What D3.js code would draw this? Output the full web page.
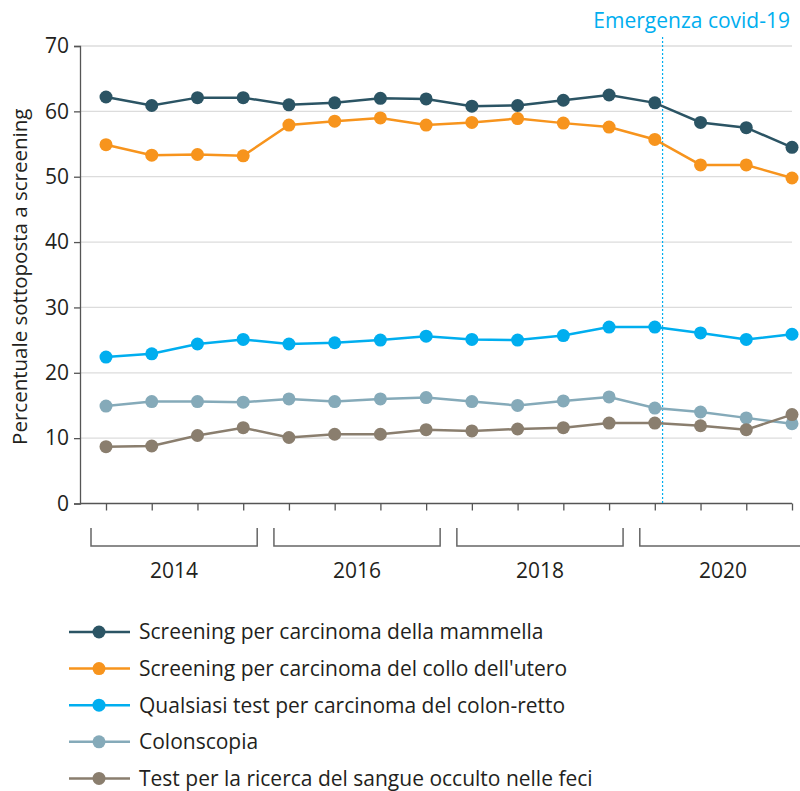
<!DOCTYPE html>
<html><head><meta charset="utf-8">
<script src="https://cdn.jsdelivr.net/npm/d3@7"></script>
<style>body{margin:0;background:#fff} svg{display:block;font-family:'Open Sans',sans-serif}</style>
</head><body><svg id="c" width="800" height="791"></svg>
<script>
const periods = ["2013 S2","2014 S1","2014 S2","2015 S1","2015 S2","2016 S1","2016 S2","2017 S1","2017 S2","2018 S1","2018 S2","2019 S1","2019 S2","2020 S1","2020 S2","2021 S1"];
const groupLabels = ["2014","2016","2018","2020"];
const seriesNames = ["Screening per carcinoma della mammella","Screening per carcinoma del collo dell'utero","Qualsiasi test per carcinoma del colon-retto","Colonscopia","Test per la ricerca del sangue occulto nelle feci"];
const mammella = [62.2,60.9,62.1,62.1,61.0,61.3,62.0,61.9,60.8,60.9,61.7,62.5,61.3,58.3,57.5,54.5];
const utero = [54.9,53.3,53.4,53.2,57.9,58.5,59.0,57.9,58.3,58.9,58.2,57.6,55.7,51.8,51.8,49.8];
const colonRetto = [22.4,22.9,24.4,25.1,24.4,24.6,25.0,25.6,25.1,25.0,25.7,27.0,27.0,26.1,25.1,25.9];
const colonscopia = [14.9,15.6,15.6,15.5,16.0,15.6,16.0,16.2,15.6,15.0,15.7,16.3,14.6,14.0,13.1,12.2];
const feci = [8.7,8.8,10.4,11.6,10.1,10.6,10.6,11.3,11.1,11.4,11.6,12.3,12.3,11.9,11.3,13.6];
const yTicks = [0,10,20,30,40,50,60,70];
const covidLabel = "Emergenza covid-19";
const covidAfterIndex = 12; // covid marker just after this period

const colors = ["#2b5464","#f7941d","#00aeef","#85aab9","#8a7e6e"];
const allSeries = [mammella, utero, colonRetto, colonscopia, feci];

(function(){
const svg = d3.select("#c");
const mL = 80, mR = 792, mT = 46, mB = 503.5;
const x = d3.scalePoint().domain(periods).range([106, mR]);
const y = d3.scaleLinear().domain([0,70]).range([mB, mT]);
const step = x.step();

// gridlines
svg.append("g").selectAll("line").data(yTicks.filter(d=>d>0)).join("line")
  .attr("x1", mL).attr("x2", mR).attr("y1", d=>y(d)).attr("y2", d=>y(d))
  .attr("stroke", "#dcdcdc").attr("stroke-width", 1.3);

// y axis
const ya = svg.append("g").attr("transform", `translate(${mL},0)`)
  .call(d3.axisLeft(y).tickValues(yTicks).tickSize(6).tickPadding(5));
ya.select(".domain").attr("stroke","#555").attr("stroke-width",1.3);
ya.selectAll(".tick line").attr("stroke","#555").attr("stroke-width",1.3);
ya.selectAll(".tick text").attr("font-size", 21).attr("fill","#231f20").attr("font-family","'Open Sans',sans-serif");

// x axis
const xa = svg.append("g").attr("transform", `translate(0,${mB})`)
  .call(d3.axisBottom(x).tickSize(7).tickFormat(""));
xa.select(".domain").remove();
xa.selectAll(".tick line").attr("stroke","#555").attr("stroke-width",1.3);
svg.append("line").attr("x1", mL).attr("x2", mR).attr("y1", mB).attr("y2", mB)
  .attr("stroke","#555").attr("stroke-width",1.3);

// group brackets
const gsize = periods.length / groupLabels.length;
const br = svg.append("g");
groupLabels.forEach((lab, gi) => {
  const x0 = x(periods[gi*gsize]) - 15, x1 = x(periods[gi*gsize + gsize - 1]) + 14;
  br.append("path").attr("d", `M${x0},528V546H${x1}V528`).attr("fill","none")
    .attr("stroke","#666").attr("stroke-width",1.5);
  br.append("text").attr("x", (x0+x1)/2).attr("y", 578).attr("text-anchor","middle")
    .attr("font-size", 21).attr("fill","#231f20").text(lab);
});

// y title
svg.append("text").attr("transform", `translate(27,${(mT+mB)/2+2}) rotate(-90)`)
  .attr("text-anchor","middle").attr("font-size", 20.5).attr("fill","#231f20")
  .text("Percentuale sottoposta a screening");

// covid line
const cx = x(periods[covidAfterIndex]) + step*0.17;
svg.append("line").attr("x1", cx).attr("x2", cx).attr("y1", 37).attr("y2", mB)
  .attr("stroke","#00aeef").attr("stroke-width",1.2).attr("stroke-dasharray","2,2");
svg.append("text").attr("x", 790).attr("y", 28).attr("text-anchor","end")
  .attr("font-size", 21).attr("fill","#00aeef").text(covidLabel);

// series
const line = d3.line().x((d,i)=>x(periods[i])).y(d=>y(d));
allSeries.forEach((s, si) => {
  const g = svg.append("g");
  g.append("path").datum(s).attr("d", line).attr("fill","none")
    .attr("stroke", colors[si]).attr("stroke-width", 2.5);
  g.selectAll("circle").data(s).join("circle")
    .attr("cx", (d,i)=>x(periods[i])).attr("cy", d=>y(d)).attr("r", 6.5).attr("fill", colors[si]);
});

// legend
const lg = svg.append("g");
seriesNames.forEach((name, i) => {
  const ly = 632 + i*36.6;
  lg.append("line").attr("x1", 69).attr("x2", 130).attr("y1", ly).attr("y2", ly)
    .attr("stroke", colors[i]).attr("stroke-width", 2.5);
  lg.append("circle").attr("cx", 99).attr("cy", ly).attr("r", 6.5).attr("fill", colors[i]);
  lg.append("text").attr("x", 139).attr("y", ly).attr("dy","0.35em")
    .attr("font-size", 21).attr("fill","#231f20").text(name);
});
})();
</script></body></html>
